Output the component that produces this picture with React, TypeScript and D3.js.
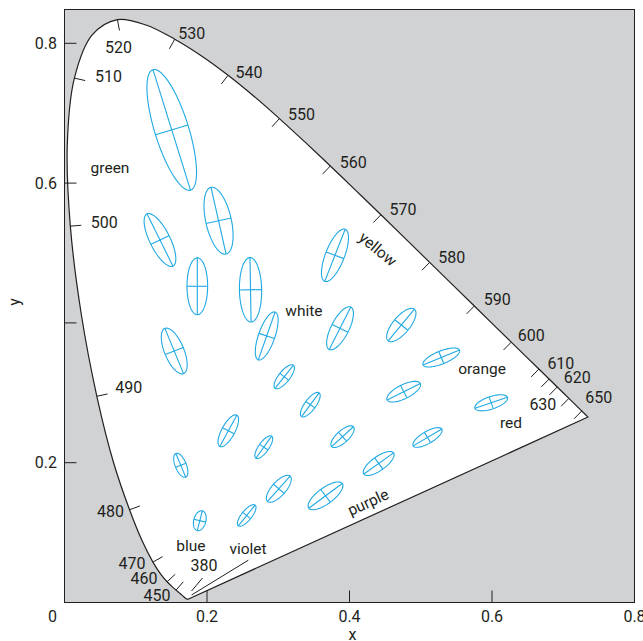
import React from 'react';
import * as d3 from 'd3';

// ---------------- DATA ----------------
// CIE 1931 2° spectral locus, 380–700 nm at 5 nm steps
const wavelengths = d3.range(380, 701, 5);
const locusX = [
  0.1741, 0.1740, 0.1738, 0.1736, 0.1733, 0.1730, 0.1726, 0.1721, 0.1714, 0.1703,
  0.1689, 0.1669, 0.1644, 0.1611, 0.1566, 0.1510, 0.1440, 0.1355, 0.1241, 0.1096,
  0.0913, 0.0687, 0.0454, 0.0235, 0.0082, 0.0039, 0.0139, 0.0389, 0.0743, 0.1142,
  0.1547, 0.1929, 0.2296, 0.2658, 0.3016, 0.3373, 0.3731, 0.4087, 0.4441, 0.4788,
  0.5125, 0.5448, 0.5752, 0.6029, 0.6270, 0.6482, 0.6658, 0.6801, 0.6915, 0.7006,
  0.7079, 0.7140, 0.7190, 0.7230, 0.7260, 0.7283, 0.7300, 0.7311, 0.7320, 0.7327,
  0.7334, 0.7340, 0.7344, 0.7346, 0.7347,
];
const locusY = [
  0.0050, 0.0050, 0.0049, 0.0049, 0.0048, 0.0048, 0.0048, 0.0048, 0.0051, 0.0058,
  0.0069, 0.0086, 0.0109, 0.0138, 0.0177, 0.0227, 0.0297, 0.0399, 0.0578, 0.0868,
  0.1327, 0.2007, 0.2950, 0.4127, 0.5384, 0.6548, 0.7502, 0.8120, 0.8338, 0.8262,
  0.8059, 0.7816, 0.7543, 0.7243, 0.6923, 0.6589, 0.6245, 0.5896, 0.5547, 0.5202,
  0.4866, 0.4544, 0.4242, 0.3965, 0.3725, 0.3514, 0.3340, 0.3197, 0.3083, 0.2993,
  0.2920, 0.2859, 0.2809, 0.2770, 0.2740, 0.2717, 0.2700, 0.2689, 0.2680, 0.2673,
  0.2666, 0.2660, 0.2656, 0.2654, 0.2653,
];

// wavelengths marked with a tick on the locus
const tickWavelengths = [450, 460, 470, 480, 490, 500, 510, 520, 530, 540, 550, 560, 570, 580, 590, 600, 610, 615, 620, 630, 650];
// wavelengths that carry a number
const labelWavelengths = [450, 460, 470, 480, 490, 500, 510, 520, 530, 540, 550, 560, 570, 580, 590, 600, 610, 620, 630, 650];

// MacAdam ellipses (enlarged): centre x, centre y, semi-major, semi-minor, angle (deg)
const ellipseX = [0.1505, 0.2162, 0.1340, 0.1864, 0.2611, 0.3796, 0.2838, 0.1540, 0.3867, 0.4727, 0.5288, 0.4761, 0.5989, 0.3084, 0.3450, 0.2299, 0.2797, 0.3902, 0.5095, 0.1632, 0.4410, 0.3008, 0.3663, 0.2557, 0.1899];
const ellipseY = [0.6761, 0.5462, 0.5186, 0.4524, 0.4474, 0.4967, 0.3813, 0.3598, 0.3923, 0.3970, 0.3505, 0.3016, 0.2857, 0.3230, 0.2830, 0.2456, 0.2222, 0.2372, 0.2361, 0.1963, 0.1989, 0.1627, 0.1526, 0.1245, 0.1170];
const ellipseA = [0.0901, 0.0489, 0.0416, 0.0407, 0.0461, 0.0400, 0.0362, 0.0349, 0.0339, 0.0292, 0.0277, 0.0261, 0.0241, 0.0210, 0.0210, 0.0254, 0.0193, 0.0209, 0.0234, 0.0183, 0.0258, 0.0241, 0.0294, 0.0190, 0.0146];
const ellipseB = [0.0238, 0.0179, 0.0142, 0.0145, 0.0156, 0.0133, 0.0115, 0.0136, 0.0125, 0.0119, 0.0092, 0.0099, 0.0089, 0.0078, 0.0078, 0.0092, 0.0071, 0.0085, 0.0085, 0.0078, 0.0099, 0.0099, 0.0113, 0.0071, 0.0085];
const ellipseAngle = [107, 102.5, 116, 90, 91, 69, 71, 112, 63.5, 51, 22.5, 27, 19, 52, 54, 62, 55, 43, 31, 112, 36, 49, 37, 51.5, 76];

const xTicks = [0.2, 0.4, 0.6];
const xTickLabels = ['0.2', '0.4', '0.6', '0.8'];
const xLabelValues = [0.2, 0.4, 0.6, 0.8];
const yTicks = [0.2, 0.4, 0.6, 0.8];
const yTickLabels = ['0.2', '0.6', '0.8'];
const yLabelValues = [0.2, 0.6, 0.8];

// colour-region names (in chromaticity coordinates)
const regionNames = ['green', 'white', 'yellow', 'orange', 'red', 'purple', 'blue', 'violet', '380'];
const regionX = [0.0639, 0.3360, 0.4400, 0.5860, 0.6267, 0.4260, 0.1775, 0.2575, 0.1958];
const regionY = [0.6230, 0.4185, 0.5057, 0.3355, 0.2575, 0.1438, 0.0823, 0.0780, 0.0536];

// ---------------- LAYOUT ----------------
const W = 643;
const H = 641;
const PLOT_LEFT = 64.5;
const PLOT_RIGHT = 634.5;
const PLOT_TOP = 9.5;
const PLOT_BOTTOM = 602.5;
const TICK = 12;
const LOCUS_TICK = 11;
const FONT = "Roboto, 'Open Sans', 'Liberation Sans', sans-serif";
const INK = '#231f20';
const GRAY = '#d1d2d4';
const CYAN = '#1fa9e3';

// pixel offsets of wavelength numbers from their locus point
const labelOffset: Record<number, [number, number]> = {
  450: [-19, 5], 460: [-23, -3], 470: [-21, 1], 480: [-19, 1], 490: [32, -9], 500: [34, -4],
  510: [34, -2], 520: [1, 28], 530: [17, -6], 540: [21, -3], 550: [22, -4], 560: [23, -4],
  570: [22, -6], 580: [22, -5], 590: [23, -7], 600: [20, -7], 610: [22, -6], 620: [20, -10],
  630: [-26, 6], 650: [17, -14],
};
const regionRotate: Record<string, number> = { yellow: 40, purple: -24.5 };
const regionSize: Record<string, number> = { '380': 16 };

export default function App() {
  const x = d3.scaleLinear().domain([0, 0.8]).range([PLOT_LEFT, PLOT_RIGHT]);
  const y = d3.scaleLinear().domain([0, 0.8]).range([PLOT_BOTTOM, 43.3]);

  const pts: [number, number][] = wavelengths.map((_, i) => [x(locusX[i]), y(locusY[i])]);
  const curve = d3.line<[number, number]>().curve(d3.curveCatmullRom.alpha(0.5));
  const locusPath = (curve(pts) as string) + 'Z';

  const wx = x(0.33);
  const wy = y(0.33);
  const idx = (w: number) => wavelengths.indexOf(w);

  const locusTicks = tickWavelengths.map((w) => {
    const i = idx(w);
    const p = pts[i];
    const a = pts[Math.max(0, i - 1)];
    const b = pts[Math.min(pts.length - 1, i + 1)];
    let tx = b[0] - a[0];
    let ty = b[1] - a[1];
    const len = Math.hypot(tx, ty) || 1;
    tx /= len;
    ty /= len;
    let nx = -ty;
    let ny = tx;
    if (nx * (wx - p[0]) + ny * (wy - p[1]) < 0) {
      nx = -nx;
      ny = -ny;
    }
    return { w, x1: p[0], y1: p[1], x2: p[0] + nx * LOCUS_TICK, y2: p[1] + ny * LOCUS_TICK };
  });

  const ellipseLine = d3.line<[number, number]>().curve(d3.curveLinearClosed);
  const ellipses = ellipseX.map((cx, k) => {
    const a = ellipseA[k];
    const b = ellipseB[k];
    const th = (ellipseAngle[k] * Math.PI) / 180;
    const at = (t: number): [number, number] => {
      const dx = a * Math.cos(th) * Math.cos(t) - b * Math.sin(th) * Math.sin(t);
      const dy = a * Math.sin(th) * Math.cos(t) + b * Math.cos(th) * Math.sin(t);
      return [x(cx + dx), y(ellipseY[k] + dy)];
    };
    const ring = d3.range(0, 96).map((j) => at((j / 96) * 2 * Math.PI));
    return {
      d: ellipseLine(ring) as string,
      major: [at(0), at(Math.PI)],
      minor: [at(Math.PI / 2), at((3 * Math.PI) / 2)],
    };
  });

  const p380 = pts[0];
  const textStyle: React.CSSProperties = { fontFamily: FONT, fill: INK };

  return (
    <svg width={W} height={H} style={{ position: 'absolute', left: 0, top: 0, background: '#fff' }}>
      {/* plot background */}
      <rect x={PLOT_LEFT} y={PLOT_TOP} width={PLOT_RIGHT - PLOT_LEFT} height={PLOT_BOTTOM - PLOT_TOP} fill={GRAY} />
      {/* spectral locus */}
      <path d={locusPath} fill="#fff" stroke={INK} strokeWidth={1.2} strokeLinejoin="round" />
      {/* frame */}
      <rect x={PLOT_LEFT} y={PLOT_TOP} width={PLOT_RIGHT - PLOT_LEFT} height={PLOT_BOTTOM - PLOT_TOP} fill="none" stroke={INK} strokeWidth={1} />

      {/* axis ticks */}
      {xTicks.map((v) => (
        <line key={'xt' + v} x1={x(v)} x2={x(v)} y1={PLOT_BOTTOM} y2={PLOT_BOTTOM - TICK} stroke={INK} strokeWidth={1} />
      ))}
      {yTicks.map((v) => (
        <line key={'yt' + v} x1={PLOT_LEFT} x2={PLOT_LEFT + TICK} y1={y(v)} y2={y(v)} stroke={INK} strokeWidth={1} />
      ))}
      {xLabelValues.map((v, i) => (
        <text key={'xl' + v} x={x(v)} y={622} textAnchor="middle" fontSize={16} style={textStyle}>
          {xTickLabels[i]}
        </text>
      ))}
      <text x={PLOT_LEFT - 12} y={622} textAnchor="middle" fontSize={16} style={textStyle}>0</text>
      {yLabelValues.map((v, i) => (
        <text key={'yl' + v} x={57} y={y(v)} dy="0.36em" textAnchor="end" fontSize={16} style={textStyle}>
          {yTickLabels[i]}
        </text>
      ))}
      <text x={x(0.4) + 3} y={640} textAnchor="middle" fontSize={16} style={textStyle}>x</text>
      <text transform={`translate(20,${y(0.43)}) rotate(-90)`} textAnchor="middle" fontSize={16} style={textStyle}>y</text>

      {/* wavelength ticks and numbers */}
      {locusTicks.map((t) => (
        <line key={'lt' + t.w} x1={t.x1} y1={t.y1} x2={t.x2} y2={t.y2} stroke={INK} strokeWidth={1} />
      ))}
      {labelWavelengths.map((w) => {
        const p = pts[idx(w)];
        const o = labelOffset[w];
        return (
          <text key={'lw' + w} x={p[0] + o[0]} y={p[1] + o[1]} dy="0.36em" textAnchor="middle" fontSize={16} style={textStyle}>
            {w}
          </text>
        );
      })}

      {/* leader lines for 380 and violet */}
      <line x1={p380[0] + 3} y1={p380[1] - 8} x2={p380[0] + 14} y2={p380[1] - 21} stroke={INK} strokeWidth={1} />
      <line x1={p380[0] + 3} y1={p380[1] - 4} x2={x(0.258)} y2={y(0.0605)} stroke={INK} strokeWidth={1} />

      {/* region names */}
      {regionNames.map((n, i) => {
        const px = x(regionX[i]);
        const py = y(regionY[i]);
        const r = regionRotate[n] || 0;
        return (
          <text
            key={'rn' + n}
            transform={`translate(${px},${py}) rotate(${r})`}
            dy="0.36em"
            textAnchor="middle"
            fontSize={regionSize[n] || 15.5}
            style={textStyle}
          >
            {n}
          </text>
        );
      })}

      {/* MacAdam ellipses */}
      {ellipses.map((e, k) => (
        <g key={'el' + k} fill="none" stroke={CYAN} strokeWidth={1.1}>
          <path d={e.d} />
          <line x1={e.major[0][0]} y1={e.major[0][1]} x2={e.major[1][0]} y2={e.major[1][1]} />
          <line x1={e.minor[0][0]} y1={e.minor[0][1]} x2={e.minor[1][0]} y2={e.minor[1][1]} />
        </g>
      ))}
    </svg>
  );
}
